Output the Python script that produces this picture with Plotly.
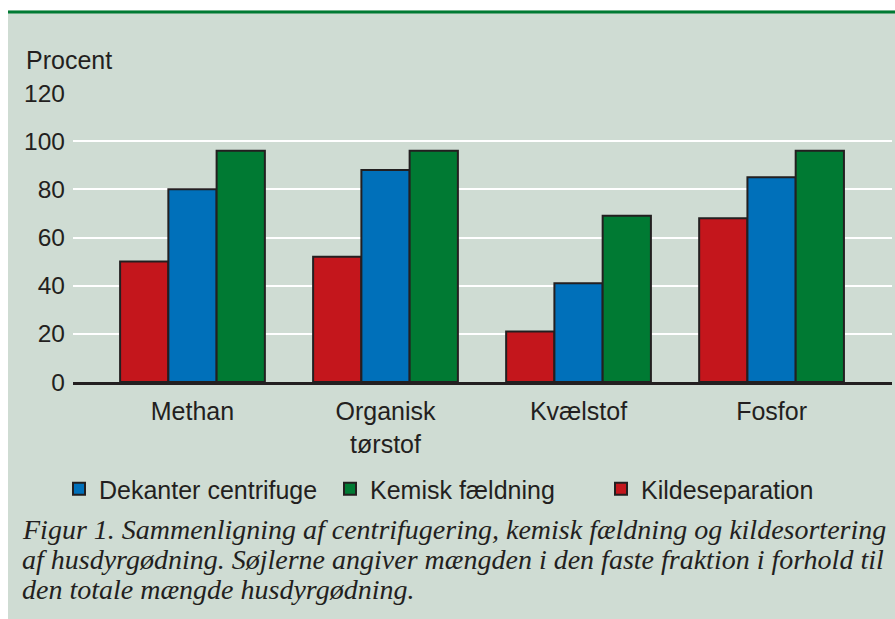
import plotly.graph_objects as go

categories = ["Methan", "Organisk<br>tørstof", "Kvælstof", "Fosfor"]
kildeseparation = [50, 52, 21, 68]
dekanter = [80, 88, 41, 85]
kemisk = [96, 96, 69, 96]
y_ticks = [0, 20, 40, 60, 80, 100, 120]

caption_lines = [
    "Figur 1. Sammenligning af centrifugering, kemisk fældning og kildesortering",
    "af husdyrgødning. Søjlerne angiver mængden i den faste fraktion i forhold til",
    "den totale mængde husdyrgødning.",
]

RED = "#C4161C"
BLUE = "#0070BA"
GREEN = "#007A33"
PANEL = "#CFDCD3"
INK = "#231F20"
SANS = "Liberation Sans, Arial, sans-serif"
SERIF = "Liberation Serif, Times New Roman, serif"

W, H = 895, 619
L, R, T, B = 73, 3, 93, 237
pw = W - L - R
ph = H - T - B

def px_x(p):
    return (p - L) / pw

def px_y(p):
    return (H - B - p) / ph

fig = go.Figure()
series = [
    ("Kildeseparation", kildeseparation, RED, 3),
    ("Dekanter centrifuge", dekanter, BLUE, 1),
    ("Kemisk fældning", kemisk, GREEN, 2),
]
for name, vals, col, rank in series:
    fig.add_trace(go.Bar(
        x=categories, y=vals, name=name, legendrank=rank,
        marker=dict(color=col, line=dict(color=INK, width=2)),
        hoverinfo="skip",
    ))

fig.update_layout(
    width=W, height=H,
    margin=dict(l=L, r=R, t=T, b=B),
    paper_bgcolor=PANEL, plot_bgcolor=PANEL,
    barmode="group", bargap=0.25, bargroupgap=0,
    font=dict(family=SANS, size=25, color=INK),
    showlegend=True,
    legend=dict(
        orientation="h", x=px_x(59), xanchor="left",
        y=px_y(489), yanchor="middle",
        font=dict(family=SANS, size=25, color=INK),
        entrywidth=226, bgcolor="rgba(0,0,0,0)",
        traceorder="normal",
    ),
    xaxis=dict(
        type="category", range=[-0.619, 3.624],
        showline=True, linecolor=INK, linewidth=3,
        showgrid=False, ticks="", tickfont=dict(size=25, color=INK),
        ticklabelstandoff=5,
        fixedrange=True,
    ),
    yaxis=dict(
        range=[0, 120], tickvals=y_ticks, ticktext=[str(v) for v in y_ticks],
        showgrid=True, gridcolor="white", gridwidth=2,
        zeroline=False, showline=False, ticks="",
        ticklabelstandoff=7,
        tickfont=dict(size=24.5, color=INK), fixedrange=True,
    ),
)

shapes = [
    dict(type="rect", xref="paper", yref="paper", x0=-0.2, x1=px_x(8),
         y0=-1, y1=2, fillcolor="white", line=dict(width=0), layer="above"),
    dict(type="rect", xref="paper", yref="paper", x0=-0.2, x1=1.2,
         y0=px_y(10.5), y1=2, fillcolor="white", line=dict(width=0), layer="above"),
    dict(type="line", xref="paper", yref="paper", x0=px_x(8), x1=1.1,
         y0=px_y(12), y1=px_y(12), line=dict(color=GREEN, width=3), layer="above"),
]
fig.update_layout(shapes=shapes)

fig.add_annotation(text="Procent", xref="paper", yref="paper",
                   x=px_x(24), y=px_y(60), xanchor="left", yanchor="middle",
                   showarrow=False, font=dict(family=SANS, size=25, color=INK))

for i, line in enumerate(caption_lines):
    fig.add_annotation(text="<i>" + line + "</i>", xref="paper", yref="paper",
                       x=px_x(20), y=px_y(529 + 30 * i), xanchor="left", yanchor="middle",
                       showarrow=False, font=dict(family=SERIF, size=28, color=INK))

fig.write_html(
    "out.html",
    config={"displayModeBar": False, "staticPlot": True},
    post_script="document.body.style.margin='0';document.body.style.overflow='hidden';",
)
